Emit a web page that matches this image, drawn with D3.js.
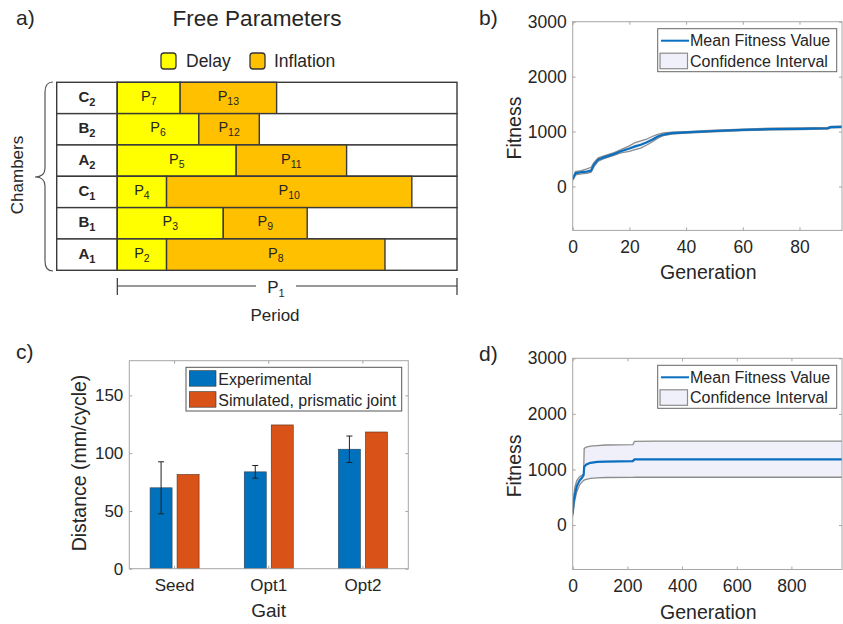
<!DOCTYPE html>
<html>
<head>
<meta charset="utf-8">
<script src="https://cdn.jsdelivr.net/npm/d3@7"></script>
<style>
  body { margin: 0; background: #fff; }
  text { fill: #262626; }
</style>
</head>
<body>
<script>
// a) free parameters: share of the period (percent), rows listed top to bottom
const chamberNames = ["C2", "B2", "A2", "C1", "B1", "A1"];
const delayShare = [18.5, 24, 35, 14.5, 31.2, 14.5];
const inflationShare = [28.4, 17.8, 32.5, 72.2, 24.7, 64.3];
const delayParams = ["7", "6", "5", "4", "3", "2"];
const inflationParams = ["13", "12", "11", "10", "9", "8"];

// c) distance per cycle
const gaits = ["Seed", "Opt1", "Opt2"];
const experimental = [70, 83.8, 103.4];
const experimentalErr = [22.5, 5.5, 11.4];
const simulated = [81.5, 124.4, 118.3];
const distTicks = [0, 50, 100, 150];

// b) fitness over ~95 generations
const bGen =   [0, 1, 3, 5, 6.5, 7.5, 9, 11, 14, 17, 20, 22, 24, 26, 28, 30, 32, 35, 40, 50, 60, 70, 80, 90, 91, 95];
const bMean =  [130, 240, 260, 270, 290, 400, 490, 530, 580, 640, 690, 730, 760, 800, 850, 910, 945, 970, 985, 1010, 1030, 1045, 1050, 1060, 1080, 1085];
const bUpper = [150, 270, 290, 320, 350, 440, 520, 555, 605, 670, 740, 800, 830, 860, 910, 950, 975, 990, 1000, 1025, 1045, 1060, 1065, 1075, 1095, 1100];
const bLower = [110, 210, 230, 240, 260, 360, 460, 505, 555, 610, 640, 670, 700, 750, 810, 880, 925, 955, 970, 995, 1015, 1030, 1035, 1045, 1065, 1070];
const bGenTicks = [0, 20, 40, 60, 80];

// d) fitness over ~985 generations
const dGen =   [0, 3, 8, 15, 25, 35, 40, 42, 50, 65, 90, 120, 220, 226, 300, 985];
const dMean =  [200, 400, 550, 700, 800, 860, 900, 1050, 1090, 1120, 1135, 1140, 1150, 1180, 1180, 1180];
const dUpper = [230, 500, 680, 800, 870, 900, 920, 1380, 1400, 1420, 1430, 1440, 1445, 1505, 1510, 1510];
const dLower = [150, 280, 450, 600, 720, 780, 800, 810, 820, 840, 850, 855, 858, 860, 860, 860];
const dGenTicks = [0, 200, 400, 600, 800];

const fitTicks = [0, 1000, 2000, 3000];

const svg = d3.select("body").append("svg")
    .attr("width", 843)
    .attr("height", 624)
    .style("font-family", "'Liberation Sans', Arial, sans-serif");

function subText(sel, base, sub, subSize, shift) {
    sel.append("tspan").text(base);
    sel.append("tspan").attr("font-size", subSize).attr("dy", shift).text(sub);
}

// ---------------- panel a ----------------
svg.append("text").attr("x", 16).attr("y", 25).attr("font-size", 21).text("a)");
svg.append("text").attr("x", 257).attr("y", 25.5).attr("text-anchor", "middle")
    .attr("font-size", 22.5).text("Free Parameters");

// legend
const aLegend = [["Delay", "#FFFF00", 161, 186], ["Inflation", "#FFC000", 250, 274]];
aLegend.forEach(([name, col, bx, tx]) => {
    svg.append("rect").attr("x", bx).attr("y", 53).attr("width", 15).attr("height", 16)
        .attr("rx", 3).attr("fill", col).attr("stroke", "#333").attr("stroke-width", 1.3);
    svg.append("text").attr("x", tx).attr("y", 67).attr("font-size", 17.5).text(name);
});

const aX = d3.scaleLinear().domain([0, 100]).range([117.3, 457]);
const aY = d3.scaleBand().domain(chamberNames).range([82.3, 270.3]);
const edge = "#3a3a3a";

const rows = svg.append("g").selectAll("g")
    .data(chamberNames)
    .enter()
    .append("g");

rows.append("rect")
    .attr("x", 56.7).attr("y", d => aY(d))
    .attr("width", aX(0) - 56.7).attr("height", aY.bandwidth())
    .attr("fill", "#fff").attr("stroke", edge).attr("stroke-width", 1.4);
rows.append("rect")
    .attr("x", aX(0)).attr("y", d => aY(d))
    .attr("width", aX(100) - aX(0)).attr("height", aY.bandwidth())
    .attr("fill", "#fff").attr("stroke", edge).attr("stroke-width", 1.4);
rows.append("rect")
    .attr("x", aX(0)).attr("y", d => aY(d))
    .attr("width", (d, i) => aX(delayShare[i]) - aX(0)).attr("height", aY.bandwidth())
    .attr("fill", "#FFFF00").attr("stroke", edge).attr("stroke-width", 1.4);
rows.append("rect")
    .attr("x", (d, i) => aX(delayShare[i])).attr("y", d => aY(d))
    .attr("width", (d, i) => aX(delayShare[i] + inflationShare[i]) - aX(delayShare[i]))
    .attr("height", aY.bandwidth())
    .attr("fill", "#FFC000").attr("stroke", edge).attr("stroke-width", 1.4);

rows.append("text")
    .attr("x", (56.7 + aX(0)) / 2).attr("y", d => aY(d) + aY.bandwidth() / 2 + 4)
    .attr("text-anchor", "middle").attr("font-size", 15).attr("font-weight", "bold")
    .each(function (d) { subText(d3.select(this), d[0], d.slice(1), 11, 4); });
rows.append("text")
    .attr("x", (d, i) => aX(delayShare[i] / 2)).attr("y", d => aY(d) + aY.bandwidth() / 2 + 3)
    .attr("text-anchor", "middle").attr("font-size", 14.5)
    .each(function (d, i) { subText(d3.select(this), "P", delayParams[i], 10.5, 4); });
rows.append("text")
    .attr("x", (d, i) => aX(delayShare[i] + inflationShare[i] / 2)).attr("y", d => aY(d) + aY.bandwidth() / 2 + 3)
    .attr("text-anchor", "middle").attr("font-size", 14.5)
    .each(function (d, i) { subText(d3.select(this), "P", inflationParams[i], 10.5, 4); });

// brace and side label
svg.append("path")
    .attr("d", "M53,82 Q45,82 45,92 L45,168 Q45,177 35,177 Q45,177 45,186 L45,261 Q45,271 53,271")
    .attr("fill", "none").attr("stroke", "#555").attr("stroke-width", 1.2);
svg.append("text").attr("transform", "translate(23,175) rotate(-90)")
    .attr("text-anchor", "middle").attr("font-size", 17).text("Chambers");

// period span
const spanY = 286;
const period = svg.append("g").attr("stroke", "#333").attr("stroke-width", 1.2);
period.append("line").attr("x1", aX(0)).attr("x2", 256).attr("y1", spanY).attr("y2", spanY);
period.append("line").attr("x1", 296).attr("x2", aX(100)).attr("y1", spanY).attr("y2", spanY);
period.append("line").attr("x1", aX(0)).attr("x2", aX(0)).attr("y1", 278).attr("y2", 295);
period.append("line").attr("x1", aX(100)).attr("x2", aX(100)).attr("y1", 278).attr("y2", 295);
svg.append("text").attr("x", 276).attr("y", 292.5).attr("text-anchor", "middle")
    .attr("font-size", 17).each(function () { subText(d3.select(this), "P", "1", 11, 4); });
svg.append("text").attr("x", 275).attr("y", 321).attr("text-anchor", "middle")
    .attr("font-size", 17).text("Period");

// ---------------- shared axis helper ----------------
const frameCol = "#a6a6a6";
function frame(g, x0, x1, y0, y1) {
    g.append("rect").attr("x", x0).attr("y", y0).attr("width", x1 - x0).attr("height", y1 - y0)
        .attr("fill", "none").attr("stroke", frameCol).attr("stroke-width", 1);
}
function styleAxis(g, size) {
    g.select(".domain").remove();
    g.selectAll(".tick line").attr("stroke", frameCol);
    g.selectAll(".tick text").attr("font-size", size).attr("fill", "#404040")
        .style("font-family", "'Liberation Sans', Arial, sans-serif");
}

// ---------------- panel c ----------------
const cL = 129.3, cR = 408.3, cT = 360.7, cB = 568.7;
const cY = d3.scaleLinear().domain([0, 180]).range([cB, cT]);
const cX = d3.scaleBand().domain(gaits).range([127.5, 410]);
const cSub = d3.scaleBand().domain(["exp", "sim"]).range([-24.5, 24.5]).paddingInner(0.185);
const pc = svg.append("g");

svg.append("text").attr("x", 16).attr("y", 359).attr("font-size", 21).text("c)");

pc.append("g").attr("transform", `translate(${cL},0)`)
    .call(d3.axisLeft(cY).tickValues(distTicks).tickSize(-3).tickPadding(6).tickFormat(d3.format("d")))
    .call(g => styleAxis(g, 17));
pc.append("g").attr("transform", `translate(${cR},0)`)
    .call(d3.axisRight(cY).tickValues(distTicks).tickSize(-3).tickFormat(""))
    .call(g => styleAxis(g, 17));
pc.append("g").attr("transform", `translate(0,${cB})`)
    .call(d3.axisBottom(cX).tickSize(-3).tickPadding(10))
    .call(g => styleAxis(g, 17));
pc.append("g").attr("transform", `translate(0,${cT})`)
    .call(d3.axisTop(cX).tickSize(-3).tickFormat(""))
    .call(g => styleAxis(g, 17));

const cCenter = g => cX(g) + cX.bandwidth() / 2;
pc.selectAll("rect.exp")
    .data(gaits).enter().append("rect")
    .attr("x", d => cCenter(d) + cSub("exp")).attr("width", cSub.bandwidth())
    .attr("y", (d, i) => cY(experimental[i])).attr("height", (d, i) => cB - cY(experimental[i]))
    .attr("fill", "#0072BD").attr("stroke", "#2a3f55").attr("stroke-width", 0.6);
pc.selectAll("rect.sim")
    .data(gaits).enter().append("rect")
    .attr("x", d => cCenter(d) + cSub("sim")).attr("width", cSub.bandwidth())
    .attr("y", (d, i) => cY(simulated[i])).attr("height", (d, i) => cB - cY(simulated[i]))
    .attr("fill", "#D95319").attr("stroke", "#5a2c15").attr("stroke-width", 0.6);

const err = pc.append("g").attr("stroke", "#222").attr("stroke-width", 1);
gaits.forEach((g, i) => {
    const cx = cCenter(g) + cSub("exp") + cSub.bandwidth() / 2;
    const hi = cY(experimental[i] + experimentalErr[i]), lo = cY(experimental[i] - experimentalErr[i]);
    err.append("line").attr("x1", cx).attr("x2", cx).attr("y1", hi).attr("y2", lo);
    err.append("line").attr("x1", cx - 3).attr("x2", cx + 3).attr("y1", hi).attr("y2", hi);
    err.append("line").attr("x1", cx - 3).attr("x2", cx + 3).attr("y1", lo).attr("y2", lo);
});
frame(pc, cL, cR, cT, cB);

// legend c
pc.append("rect").attr("x", 186).attr("y", 367.3).attr("width", 215.7).attr("height", 43.7)
    .attr("fill", "#fff").attr("stroke", "#555").attr("stroke-width", 1);
[["Experimental", "#0072BD", 370.7, 385], ["Simulated, prismatic joint", "#D95319", 391.7, 406]]
    .forEach(([name, col, py, ty]) => {
        pc.append("rect").attr("x", 189.3).attr("y", py).attr("width", 26.7).attr("height", 15.5)
            .attr("fill", col).attr("stroke", "#333").attr("stroke-width", 0.6);
        pc.append("text").attr("x", 218.3).attr("y", ty).attr("font-size", 16).text(name);
    });

pc.append("text").attr("transform", "translate(86,463) rotate(-90)")
    .attr("text-anchor", "middle").attr("font-size", 19.5).text("Distance (mm/cycle)");
pc.append("text").attr("x", 268.7).attr("y", 617).attr("text-anchor", "middle")
    .attr("font-size", 19).text("Gait");

// ---------------- panels b and d ----------------
function fitnessPanel(id, label, top, bottom, genMax, gens, mean, upper, lower, genTicks) {
    const L = 572.7, R = 842;
    const x = d3.scaleLinear().domain([0, genMax]).range([L, R]);
    const y = d3.scaleLinear().domain([-800, 3000]).range([bottom, top]);
    const p = svg.append("g");

    svg.append("text").attr("x", 479).attr("y", top + 3).attr("font-size", 21).text(label);

    p.append("g").attr("transform", `translate(${L},0)`)
        .call(d3.axisLeft(y).tickValues(fitTicks).tickSize(-3).tickPadding(6).tickFormat(d3.format("d")))
        .call(g => styleAxis(g, 17.5));
    p.append("g").attr("transform", `translate(${R},0)`)
        .call(d3.axisRight(y).tickValues(fitTicks).tickSize(-3).tickFormat(""))
        .call(g => styleAxis(g, 17.5));
    p.append("g").attr("transform", `translate(0,${bottom})`)
        .call(d3.axisBottom(x).tickValues(genTicks).tickSize(-3).tickPadding(10).tickFormat(d3.format("d")))
        .call(g => styleAxis(g, 17.5));
    p.append("g").attr("transform", `translate(0,${top})`)
        .call(d3.axisTop(x).tickValues(genTicks).tickSize(-3).tickFormat(""))
        .call(g => styleAxis(g, 17.5));

    svg.append("clipPath").attr("id", id).append("rect")
        .attr("x", L).attr("y", top).attr("width", R - L).attr("height", bottom - top);
    const plot = p.append("g").attr("clip-path", `url(#${id})`);

    const idx = d3.range(gens.length);
    plot.append("path").datum(idx)
        .attr("d", d3.area().x(i => x(gens[i])).y0(i => y(lower[i])).y1(i => y(upper[i])))
        .attr("fill", "#f0f0fb");
    plot.append("path").datum(idx)
        .attr("d", d3.line().x(i => x(gens[i])).y(i => y(upper[i])))
        .attr("fill", "none").attr("stroke", "#8c8c8c").attr("stroke-width", 1.3);
    plot.append("path").datum(idx)
        .attr("d", d3.line().x(i => x(gens[i])).y(i => y(lower[i])))
        .attr("fill", "none").attr("stroke", "#8c8c8c").attr("stroke-width", 1.3);
    plot.append("path").datum(idx)
        .attr("d", d3.line().x(i => x(gens[i])).y(i => y(mean[i])))
        .attr("fill", "none").attr("stroke", "#0b6fbf").attr("stroke-width", 2.2);

    frame(p, L, R, top, bottom);

    // legend
    const lt = top + 7;
    p.append("rect").attr("x", 657.7).attr("y", lt).attr("width", 179).attr("height", 43)
        .attr("fill", "#fff").attr("stroke", "#666").attr("stroke-width", 1);
    p.append("line").attr("x1", 661).attr("x2", 689).attr("y1", lt + 12).attr("y2", lt + 12)
        .attr("stroke", "#0b6fbf").attr("stroke-width", 2);
    p.append("rect").attr("x", 660).attr("y", lt + 24.5).attr("width", 27.5).attr("height", 15.5)
        .attr("fill", "#f0f0fb").attr("stroke", "#8c8c8c").attr("stroke-width", 1.2);
    p.append("text").attr("x", 690).attr("y", lt + 17.5).attr("font-size", 16).text("Mean Fitness Value");
    p.append("text").attr("x", 690).attr("y", lt + 38).attr("font-size", 16).text("Confidence Interval");

    p.append("text").attr("transform", `translate(521,${(top + bottom) / 2 + 2}) rotate(-90)`)
        .attr("text-anchor", "middle").attr("font-size", 19.5).text("Fitness");
    p.append("text").attr("x", 708.3).attr("y", bottom + 49).attr("text-anchor", "middle")
        .attr("font-size", 19.5).text("Generation");
}

fitnessPanel("clipB", "b)", 21.7, 230.4, 95, bGen, bMean, bUpper, bLower, bGenTicks);
fitnessPanel("clipD", "d)", 358.3, 569.5, 985, dGen, dMean, dUpper, dLower, dGenTicks);
</script>
</body>
</html>
